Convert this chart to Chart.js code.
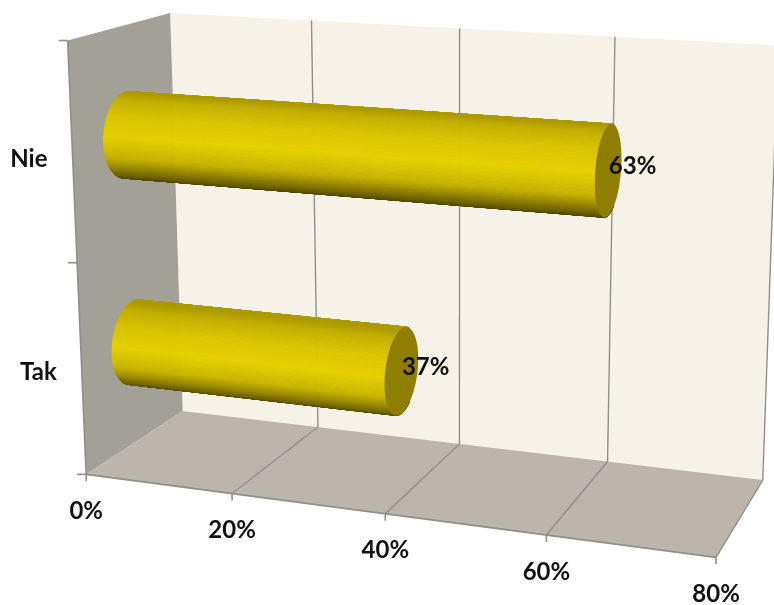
<!DOCTYPE html>
<html>
<head>
<meta charset="utf-8">
<style>
  html, body { margin: 0; padding: 0; background: #fff; }
  #chart { display: block; filter: blur(0.4px); }
</style>
<script src="https://cdn.jsdelivr.net/npm/chart.js@4"></script>
</head>
<body>
<canvas id="chart" width="774" height="605"></canvas>
<script>
const categories = ["Nie", "Tak"];
const shares = [63, 37];
const percentTicks = [0, 20, 40, 60, 80];

// === Box corners as seen in the picture ===
// [value 0-1, height 0-1, depth 0-1 (0 = back wall), px, py]
const boxRefs = [
  [0, 0, 0, 182.7, 411.7], [0.25, 0, 0, 317.3, 427.3], [0.5, 0, 0, 459.3, 444], [0.75, 0, 0, 607.3, 461.7], [1, 0, 0, 762.7, 480],
  [0, 1, 0, 170, 13.3], [0.25, 1, 0, 311.7, 20], [0.5, 1, 0, 460.7, 28], [0.75, 1, 0, 618, 36.7], [1, 1, 0, 775, 45],
  [0, 0, 1, 86.7, 472.7], [0.25, 0, 1, 232.3, 492.7], [0.5, 0, 1, 385, 514], [0.75, 0, 1, 546.7, 535], [1, 0, 1, 716.7, 558.3],
  [0, 1, 1, 66.7, 41.7], [0, 0.5, 1, 76.7, 263],
];

function solveCamera(refs) {
  const n = 11;
  const A = Array.from({ length: n }, () => new Array(n + 1).fill(0));
  const addRow = (row, rhs) => {
    for (let i = 0; i < n; i++) {
      for (let j = 0; j < n; j++) A[i][j] += row[i] * row[j];
      A[i][n] += row[i] * rhs;
    }
  };
  refs.forEach(([v, h, d, px, py]) => {
    const x = px / 500;
    const y = py / 500;
    addRow([v, h, d, 1, 0, 0, 0, 0, -x * v, -x * h, -x * d], x);
    addRow([0, 0, 0, 0, v, h, d, 1, -y * v, -y * h, -y * d], y);
  });
  for (let i = 0; i < n; i++) {
    let best = i;
    for (let r = i + 1; r < n; r++) if (Math.abs(A[r][i]) > Math.abs(A[best][i])) best = r;
    [A[i], A[best]] = [A[best], A[i]];
    for (let r = 0; r < n; r++) {
      if (r === i) continue;
      const f = A[r][i] / A[i][i];
      for (let c = i; c <= n; c++) A[r][c] -= f * A[i][c];
    }
  }
  return A.map((row, i) => row[n] / row[i]);
}

const cam = solveCamera(boxRefs);

function project(v, h, d) {
  const w = cam[8] * v + cam[9] * h + cam[10] * d + 1;
  return {
    x: (500 * (cam[0] * v + cam[1] * h + cam[2] * d + cam[3])) / w,
    y: (500 * (cam[4] * v + cam[5] * h + cam[6] * d + cam[7])) / w,
  };
}

function fillPoly(ctx, pts, color) {
  ctx.beginPath();
  pts.forEach((p, i) => (i ? ctx.lineTo(p.x, p.y) : ctx.moveTo(p.x, p.y)));
  ctx.closePath();
  ctx.fillStyle = color;
  ctx.fill();
}

function line(ctx, a, b, color, width) {
  ctx.beginPath();
  ctx.moveTo(a.x, a.y);
  ctx.lineTo(b.x, b.y);
  ctx.strokeStyle = color;
  ctx.lineWidth = width;
  ctx.stroke();
}

// top-to-bottom shade across the cylinder
const shadeStops = [
  [0, [172, 154, 0]],
  [0.05, [196, 176, 0]],
  [0.2, [218, 196, 0]],
  [0.42, [230, 209, 0]],
  [0.66, [198, 178, 0]],
  [0.85, [128, 113, 0]],
  [1, [70, 62, 0]],
];

function shade(s) {
  for (let i = 1; i < shadeStops.length; i++) {
    const [s1, c1] = shadeStops[i];
    if (s <= s1) {
      const [s0, c0] = shadeStops[i - 1];
      const t = (s - s0) / (s1 - s0);
      return `rgb(${c0.map((c, k) => Math.round(c + (c1[k] - c) * t)).join(",")})`;
    }
  }
  return "rgb(70,62,0)";
}

const box3d = {
  id: "box3d",
  beforeDatasetsDraw(chart) {
    const { ctx } = chart;
    const { x } = chart.scales;
    const valueOf = (t) => (x.getPixelForValue(t) - x.left) / x.width;
    ctx.save();
    // walls
    fillPoly(ctx, [project(0, 0, 0), project(0, 1, 0), project(1, 1, 0), project(1, 0, 0)], "#f7f2e8");
    fillPoly(ctx, [project(0, 0, 1), project(0, 1, 1), project(0, 1, 0), project(0, 0, 0)], "#a3a098");
    fillPoly(ctx, [project(0, 0, 1), project(0, 0, 0), project(1, 0, 0), project(1, 0, 1)], "#bbb5ab");
    // grid
    percentTicks.forEach((t) => {
      const v = valueOf(t);
      if (t > 0) {
        line(ctx, project(v, 0, 0), project(v, 1, 0), "#8f8f8b", 1.4);
        line(ctx, project(v, 0, 1), project(v, 0, 0), "#8f8f8b", 1.4);
      }
      const foot = project(v, 0, 1);
      line(ctx, foot, { x: foot.x, y: foot.y + 7 }, "#8f8f8b", 1.6);
    });
    // axes
    line(ctx, project(0, 0, 1), project(1, 0, 1), "#8f8f8b", 1.6);
    line(ctx, project(0, 0, 1), project(0, 1, 1), "#8f8f8b", 1.6);
    [0, 0.5, 1].forEach((h) => {
      const p = project(0, h, 1);
      line(ctx, p, { x: p.x - 9, y: p.y }, "#8f8f8b", 1.6);
    });
    ctx.restore();
  },
  // the flat bar elements give value and height, the cylinder is built on them
  beforeDatasetDraw(chart, args) {
    const { ctx } = chart;
    const { x, y } = chart.scales;
    const depth = 0.22;
    const midDepth = 0.49;
    ctx.save();
    args.meta.data.forEach((bar) => {
      const v0 = (bar.base - x.left) / x.width;
      const v1 = (bar.x - x.left) / x.width;
      const hc = 1 - (bar.y - y.top) / y.height - 0.004;
      const rh = bar.height / 2 / y.height;
      const ring = (v, a) => project(v, hc + rh * Math.cos(a), midDepth + depth * Math.sin(a));
      const steps = 140;
      const da = (Math.PI + 1) / steps;
      const angles = [];
      for (let i = 0; i < steps; i++) angles.push(-0.5 + i * da);
      // strips from the back of the barrel to the front
      angles.sort((a, b) => Math.sin(a) - Math.sin(b));
      angles.forEach((a) => {
        const mid = Math.min(Math.PI, Math.max(0, a + da / 2));
        const c = shade((1 - Math.cos(mid)) / 2);
        fillPoly(ctx, [ring(v0, a), ring(v0, a + da), ring(v1, a + da), ring(v1, a)], c);
        ctx.strokeStyle = c;
        ctx.lineWidth = 0.8;
        ctx.stroke();
      });
      const capEnd = [];
      for (let i = 0; i < 72; i++) capEnd.push(ring(v1, (i / 72) * 2 * Math.PI));
      fillPoly(ctx, capEnd, "#8f7e00");
    });
    ctx.restore();
    return false;
  },
  afterDatasetsDraw(chart) {
    const { ctx } = chart;
    const { x, y } = chart.scales;
    ctx.save();
    ctx.fillStyle = "#111";
    ctx.font = "bold 24px Lato";
    ctx.textBaseline = "middle";
    // value axis labels
    ctx.textAlign = "center";
    x.ticks.forEach((tick, i) => {
      const p = project((x.getPixelForTick(i) - x.left) / x.width, 0, 1);
      ctx.fillText(tick.label, p.x, p.y + 37);
    });
    // category labels
    ctx.textAlign = "right";
    y.ticks.forEach((tick, i) => {
      const p = project(0, 1 - (y.getPixelForTick(i) - y.top) / y.height, 1);
      ctx.fillText(tick.label, p.x - 25, p.y + (i ? 2 : 6));
    });
    // value labels at the bar ends
    ctx.textAlign = "left";
    chart.getDatasetMeta(0).data.forEach((bar, i) => {
      const p = project((bar.x - x.left) / x.width, 1 - (bar.y - y.top) / y.height, 0.5);
      ctx.fillText(`${shares[i]}%`, p.x + 1, p.y - 3);
    });
    ctx.restore();
  },
};

new Chart(document.getElementById("chart"), {
  type: "bar",
  data: {
    labels: categories,
    datasets: [
      {
        label: "Udział",
        data: shares,
        backgroundColor: "#e6d100",
        barPercentage: 0.4,
        categoryPercentage: 1,
      },
    ],
  },
  options: {
    indexAxis: "y",
    responsive: false,
    animation: false,
    layout: { padding: 0 },
    scales: {
      x: {
        min: 0,
        max: 80,
        afterBuildTicks: (scale) => {
          scale.ticks = percentTicks.map((value) => ({ value }));
        },
        ticks: { display: false, callback: (value) => `${value}%` },
        grid: { display: false },
        border: { display: false },
      },
      y: {
        ticks: { display: false },
        grid: { display: false },
        border: { display: false },
      },
    },
    plugins: {
      legend: { display: false },
      tooltip: { enabled: false },
    },
  },
  plugins: [box3d],
});
</script>
</body>
</html>
